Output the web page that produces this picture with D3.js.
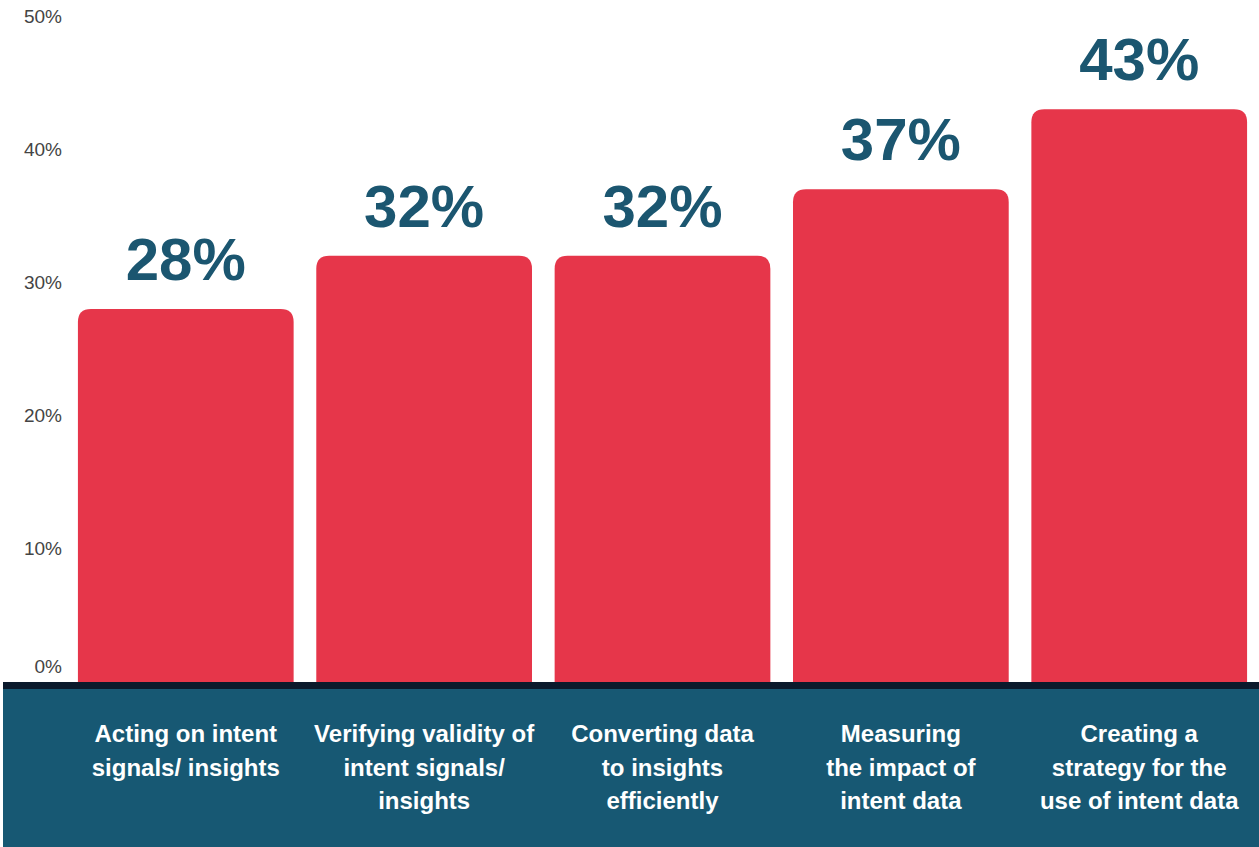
<!DOCTYPE html>
<html>
<head>
<meta charset="utf-8">
<script src="https://cdn.jsdelivr.net/npm/d3@7"></script>
<style>
  html, body { margin: 0; padding: 0; background: #fff; }
  svg { display: block; font-family: "Liberation Sans", Arial, sans-serif; }
</style>
</head>
<body>
<svg id="chart" width="1259" height="847"></svg>
<script>
// Challenges with intent data (% of respondents)
const categories = [
  ["Acting on intent", "signals/ insights"],
  ["Verifying validity of", "intent signals/", "insights"],
  ["Converting data", "to insights", "efficiently"],
  ["Measuring", "the impact of", "intent data"],
  ["Creating a", "strategy for the", "use of intent data"]
];
const values = [28, 32, 32, 37, 43];
const tickValues = [0, 10, 20, 30, 40, 50];

const W = 1259, H = 847;
const svg = d3.select("#chart");

const x = d3.scaleBand()
  .domain(d3.range(categories.length))
  .range([66, 1259])
  .paddingInner(0.095)
  .paddingOuter(0.05);

const y = d3.scaleLinear().domain([0, 50]).range([682, 16]);

// footer band holding the category names
svg.append("rect")
  .attr("x", 3).attr("y", y(0) + 6)
  .attr("width", W - 3).attr("height", H - y(0) - 6)
  .attr("fill", "#175873");
svg.append("rect")
  .attr("x", 3).attr("y", y(0))
  .attr("width", W - 3).attr("height", 7)
  .attr("fill", "#0b1a2c");

// y-axis labels
const yAxis = d3.axisLeft(y)
  .tickValues(tickValues)
  .tickFormat(d => d + "%")
  .tickSize(0)
  .tickPadding(0);
const gy = svg.append("g").attr("transform", "translate(62,0)").call(yAxis);
gy.select(".domain").remove();
gy.selectAll("text")
  .attr("font-size", 19)
  .attr("fill", "#444")
  .attr("font-family", "'Liberation Sans', Arial, sans-serif")
  .attr("dy", d => d === 0 ? "-0.5em" : "0.32em");

// bars with rounded tops
const r = 13;
function barPath(x0, y0, w, y1) {
  return `M${x0},${y1}V${y0 + r}Q${x0},${y0} ${x0 + r},${y0}H${x0 + w - r}Q${x0 + w},${y0} ${x0 + w},${y0 + r}V${y1}Z`;
}
svg.append("g").selectAll("path")
  .data(values)
  .join("path")
  .attr("d", (d, i) => barPath(x(i), y(d), x.bandwidth(), y(0)))
  .attr("fill", "#e6364a");

// value labels
svg.append("g").selectAll("text")
  .data(values)
  .join("text")
  .attr("x", (d, i) => x(i) + x.bandwidth() / 2)
  .attr("y", d => y(d) - 29)
  .attr("text-anchor", "middle")
  .attr("font-size", 60)
  .attr("font-weight", "bold")
  .attr("fill", "#1b5670")
  .text(d => d + "%");

// category labels
const cat = svg.append("g").selectAll("text")
  .data(categories)
  .join("text")
  .attr("x", (d, i) => x(i) + x.bandwidth() / 2)
  .attr("y", 742)
  .attr("text-anchor", "middle")
  .attr("font-size", 24)
  .attr("font-weight", "bold")
  .attr("fill", "#fff");
cat.selectAll("tspan")
  .data(d => d)
  .join("tspan")
  .attr("x", function () { return d3.select(this.parentNode).attr("x"); })
  .attr("dy", (d, i) => i === 0 ? 0 : 33.5)
  .text(d => d);
</script>
</body>
</html>
